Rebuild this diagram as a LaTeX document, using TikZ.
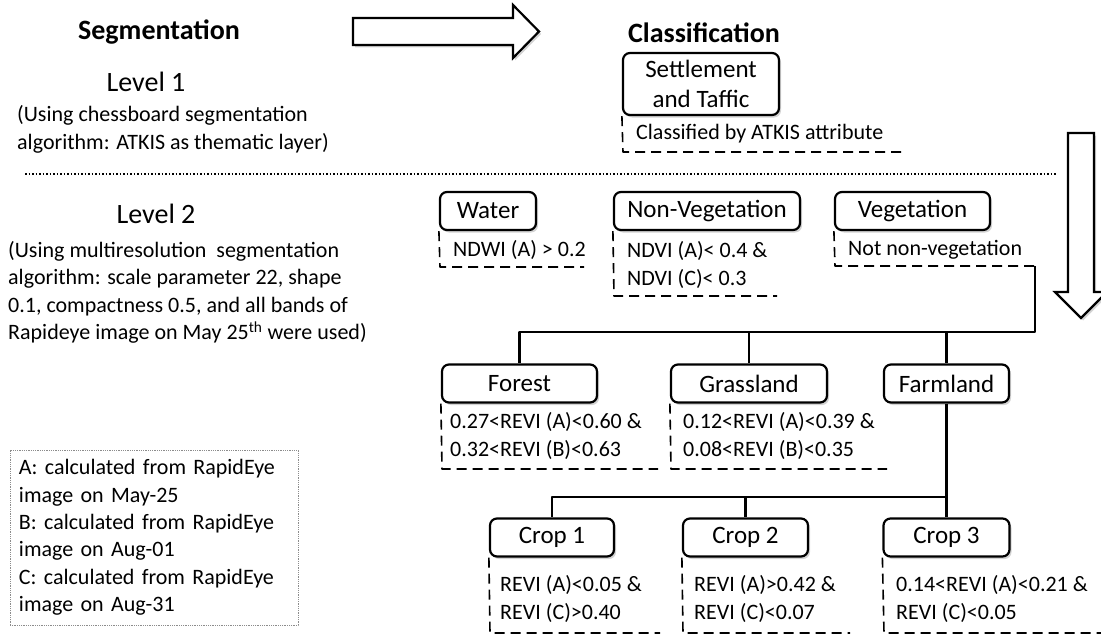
\documentclass[tikz,border=0pt]{standalone}
\usepackage{fontspec}
\setmainfont{Carlito}
\usetikzlibrary{shadows,calc}

\begin{document}
\begin{tikzpicture}[
				x=1pt,
				y=-1pt,
				line join=round,
				class/.style={draw, line width=2.2pt, rounded corners=7pt, fill=white,
					drop shadow={shadow xshift=2pt, shadow yshift=-2.5pt, opacity=0.35},
					font=\fontsize{25}{30}\selectfont, minimum height=38pt, inner sep=0pt, align=center},
				rule/.style={font=\fontsize{22}{27.4}\selectfont, inner sep=0pt, anchor=west, align=left},
				ruleline/.style={line width=1.6pt, dash pattern=on 10pt off 6pt},
				link/.style={line width=2.2pt},
				fat/.style={draw, line width=2.2pt, fill=white, line join=miter,
					drop shadow={shadow xshift=2pt, shadow yshift=-2.5pt, opacity=0.35}}
			]
			\useasboundingbox (0,0) rectangle (1101,634);

			% Headings
			\node[font=\fontsize{28}{34}\selectfont\bfseries] (seg) at (159,32) {Segmentation};
			\node[font=\fontsize{28}{34}\selectfont\bfseries] (cls) at (704,33) {Classification};
			\draw[fat] (353,18) -- (513,18) -- (513,5) -- (539,31.5) -- (513,58) -- (513,45) -- (353,45) -- cycle;
			\draw[fat] (1068,133) -- (1094,133) -- (1094,292) -- (1107,292) -- (1081,318) -- (1055,292) -- (1068,292) -- cycle;

			% Level 1
			\node[font=\fontsize{28}{34}\selectfont] (lev1) at (146,82) {Level 1};
			\node[rule] (lev1txt) at (17,129.5) {(Using chessboard segmentation\\algorithm: ATKIS as thematic layer)};
			\node[class, minimum width=156pt, minimum height=62pt] (sett) at (701,84) {Settlement\\and Taffic};
			\node[rule] (settc) at (636,134) {Classified by ATKIS attribute};
			\draw[ruleline] (sett.south west) -- (623,152) -- (903,152);

			\draw[line width=1.8pt, dash pattern=on 1.6pt off 1.9pt] (25,174) -- (1057,174);

			% Level 2
			\node[font=\fontsize{28}{34}\selectfont] (lev2) at (156,214) {Level 2};
			\node[rule] (lev2txt) at (8,292.5) {(Using multiresolution\ \ segmentation\\algorithm: scale parameter 22, shape\\0.1, compactness 0.5, and all bands of\\Rapideye image on May 25\textsuperscript{th} were used)};

			\node[class, minimum width=96pt] (water) at (488,211) {Water};
			\node[rule] (waterc) at (453,250) {NDWI (A) > 0.2};
			\draw[ruleline] (water.south west) -- (440,267) -- (584,267);

			\node[class, minimum width=186pt] (nonveg) at (707,211) {Non-Vegetation};
			\node[rule] (nonvegc) at (627,265) {NDVI (A)< 0.4 \&\\NDVI (C)< 0.3};
			\draw[ruleline] (nonveg.south west) -- (614,296) -- (777,296);

			\node[class, minimum width=155pt] (veg) at (912.5,211) {Vegetation};
			\node[rule] (vegc) at (848,250) {Not non-vegetation};
			\draw[ruleline] (veg.south west) -- (835,266) -- (1035,266) coordinate (vegend);

			% Vegetation split
			\node[class, minimum width=155pt] (forest) at (519.5,383.5) {Forest};
			\node[class, minimum width=156pt] (grass) at (749,383.5) {Grassland};
			\node[class, minimum width=125pt] (farm) at (946.5,383.5) {Farmland};
			\coordinate (bus) at (1035,332);
			\draw[link] (vegend) -- (bus) -| (forest.north);
			\draw[link] (bus) -| (grass.north);
			\draw[link] (bus) -| (farm.north);

			\node[rule] (forestc) at (450,436) {0.27<REVI (A)<0.60 \&\\0.32<REVI (B)<0.63};
			\draw[ruleline] (forest.south west) -- (442,469) -- (658,469);
			\node[rule] (grassc) at (683,436) {0.12<REVI (A)<0.39 \&\\0.08<REVI (B)<0.35};
			\draw[ruleline] (grass.south west) -- (671,469) -- (887,469);

			% Farmland split
			\node[class, minimum width=124pt] (crop1) at (552,537.5) {Crop 1};
			\node[class, minimum width=125pt] (crop2) at (745.5,537.5) {Crop 2};
			\node[class, minimum width=126pt] (crop3) at (946.5,537.5) {Crop 3};
			\coordinate (bus2) at (946.5,497);
			\draw[link] (farm.south) -- (bus2) -| (crop1.north);
			\draw[link] (bus2) -| (crop2.north);
			\draw[link] (bus2) -- (crop3.north);

			\node[rule] (crop1c) at (500,599) {REVI (A)<0.05 \&\\REVI (C)>0.40};
			\draw[ruleline] (crop1.south west) -- (490,633) -- (660,633);
			\node[rule] (crop2c) at (694,599) {REVI (A)>0.42 \&\\REVI (C)<0.07};
			\draw[ruleline] (crop2.south west) -- (683,633) -- (850,633);
			\node[rule] (crop3c) at (896,599) {0.14<REVI (A)<0.21 \&\\REVI (C)<0.05};
			\draw[ruleline] (crop3.south west) -- (884,633) -- (1101,633);

			% Legend
			\node[draw=black!45, densely dotted, line width=0.8pt, font=\fontsize{22}{27.4}\selectfont,
				text width=270pt, inner xsep=9pt, minimum height=175pt, align=left] (legend) at (154,537.5)
				{A: calculated from RapidEye\\image on May-25\\B: calculated from RapidEye\\image on Aug-01\\C: calculated from RapidEye\\image on Aug-31};

		\end{tikzpicture}
\end{document}
